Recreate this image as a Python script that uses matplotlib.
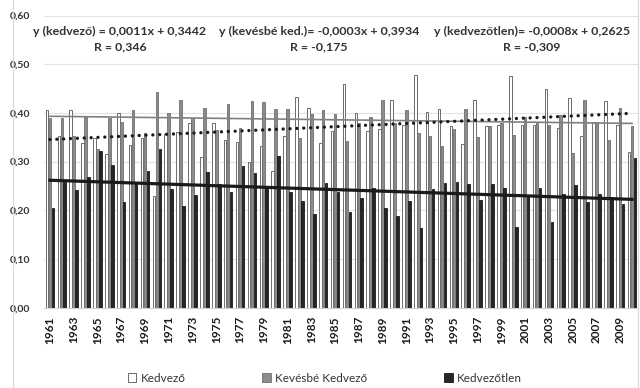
import numpy as np
import matplotlib
matplotlib.use("Agg")
import matplotlib.pyplot as plt
from matplotlib.patches import Patch

plt.rcParams['font.family'] = ['Lato', 'DejaVu Sans']

years = list(range(1961, 2011))

# Kedvező (white bars)
kedvezo = [0.405, 0.353, 0.405, 0.338, 0.348, 0.315, 0.399, 0.335, 0.349, 0.229,
           0.356, 0.361, 0.379, 0.309, 0.379, 0.344, 0.340, 0.300, 0.332, 0.281,
           0.353, 0.433, 0.411, 0.338, 0.363, 0.460, 0.399, 0.363, 0.366, 0.426,
           0.375, 0.477, 0.402, 0.409, 0.373, 0.336, 0.426, 0.373, 0.375, 0.476,
           0.375, 0.375, 0.449, 0.368, 0.430, 0.353, 0.381, 0.425, 0.375, 0.320]

# Kevésbé Kedvező (gray bars)
kevesbe = [0.389, 0.389, 0.353, 0.391, 0.325, 0.390, 0.381, 0.405, 0.358, 0.443,
           0.399, 0.426, 0.389, 0.411, 0.365, 0.418, 0.370, 0.424, 0.422, 0.407,
           0.407, 0.348, 0.398, 0.405, 0.398, 0.342, 0.379, 0.391, 0.426, 0.379,
           0.406, 0.359, 0.353, 0.332, 0.367, 0.409, 0.350, 0.373, 0.379, 0.355,
           0.392, 0.382, 0.375, 0.396, 0.318, 0.426, 0.382, 0.344, 0.411, 0.373]

# Kedvezőtlen (black bars)
kedvezotlen = [0.205, 0.259, 0.242, 0.269, 0.322, 0.292, 0.218, 0.259, 0.281, 0.325,
               0.243, 0.209, 0.231, 0.279, 0.254, 0.237, 0.290, 0.276, 0.245, 0.311,
               0.238, 0.219, 0.192, 0.257, 0.238, 0.197, 0.225, 0.245, 0.205, 0.188,
               0.219, 0.163, 0.243, 0.257, 0.259, 0.253, 0.221, 0.254, 0.245, 0.166,
               0.228, 0.245, 0.175, 0.233, 0.251, 0.218, 0.233, 0.228, 0.212, 0.307]

# trend line coefficients (slope, intercept) as printed on the chart
trend_kedvezo = (0.0011, 0.3442)
trend_kevesbe = (-0.0003, 0.3934)
trend_kedvezotlen = (-0.0008, 0.2625)

labels = ["y (kedvező) = 0,0011x + 0,3442\nR = 0,346",
          "y (kevésbé ked.)= -0,0003x + 0,3934\nR = -0,175",
          "y (kedvezőtlen)= -0,0008x + 0,2625\nR = -0,309"]

W, H = 640, 388
fig = plt.figure(figsize=(6.4, 3.88), dpi=100)
fig.patch.set_facecolor('white')
ax = fig.add_axes([44 / W, (H - 307.7) / H, (638 - 44) / W, (307.7 - 15.5) / H])

x = np.arange(len(years))
bw = 0.22
off = 0.25
ax.bar(x - off, kedvezo, bw, color='white', edgecolor='#555555', linewidth=0.6, zorder=2)
ax.bar(x, kevesbe, bw, color='#8c8c8c', edgecolor='#6e6e6e', linewidth=0.6, zorder=2)
ax.bar(x + off, kedvezotlen, bw, color='#262626', edgecolor='#1a1a1a', linewidth=0.6, zorder=2)

# trend lines, Excel-style x = 1..n
xt = x + 1
ax.plot(x, trend_kevesbe[0] * xt + trend_kevesbe[1], color='#808080', lw=1.2, zorder=3)
ax.plot(x, trend_kedvezotlen[0] * xt + trend_kedvezotlen[1], color='#1a1a1a', lw=2.3, zorder=3)
ax.plot(x, trend_kedvezo[0] * xt + trend_kedvezo[1], color='#1a1a1a', lw=2.4,
        linestyle=(0, (0.01, 2.05)), dash_capstyle='round', zorder=3)

ax.set_xlim(-0.5, len(years) - 0.5)
ax.set_ylim(0, 0.6)
ax.set_yticks(np.arange(0, 0.61, 0.1))
ax.set_yticklabels([("%.2f" % v).replace('.', ',') for v in np.arange(0, 0.61, 0.1)])
ax.set_xticks(x[::2])
ax.set_xticklabels([str(y) for y in years[::2]], rotation=90)
ax.tick_params(length=0)
ax.tick_params(axis='y', labelsize=7.5, pad=10, colors='#333333')
ax.tick_params(axis='x', labelsize=8.5, pad=6, colors='#1a1a1a')
for t in ax.get_yticklabels() + ax.get_xticklabels():
    t.set_fontweight('bold')
ax.grid(axis='y', color='#e3e3e3', lw=0.8, zorder=0)
for s in ['top', 'right', 'left']:
    ax.spines[s].set_visible(False)
ax.spines['bottom'].set_color('#d0d0d0')

# regression equations
for lab, px in zip(labels, [120, 319, 532]):
    fig.text(px / W, 1 - 26 / H, lab, ha='center', va='top', fontsize=8.9,
             fontweight='bold', color='#333333', linespacing=1.45)

# outer border lines
fig.add_artist(plt.Line2D([13 / W, 13 / W], [0, 1], color='#d9d9d9', lw=0.8))
fig.add_artist(plt.Line2D([638 / W, 638 / W], [0, 1], color='#d9d9d9', lw=0.8))

handles = [Patch(facecolor='white', edgecolor='#555555', lw=0.6),
           Patch(facecolor='#8c8c8c', edgecolor='#6e6e6e', lw=0.6),
           Patch(facecolor='#262626', edgecolor='#1a1a1a', lw=0.6)]
fig.legend(handles, ['Kedvező', 'Kevésbé Kedvező', 'Kedvezőtlen'],
           loc='center', bbox_to_anchor=(325 / W, 1 - 378 / H), ncol=3,
           frameon=False, fontsize=8.5, handlelength=0.7, handleheight=0.7,
           handletextpad=0.4, columnspacing=6.5, labelcolor='#333333')

fig.savefig('out.png', dpi=100, facecolor='white')
